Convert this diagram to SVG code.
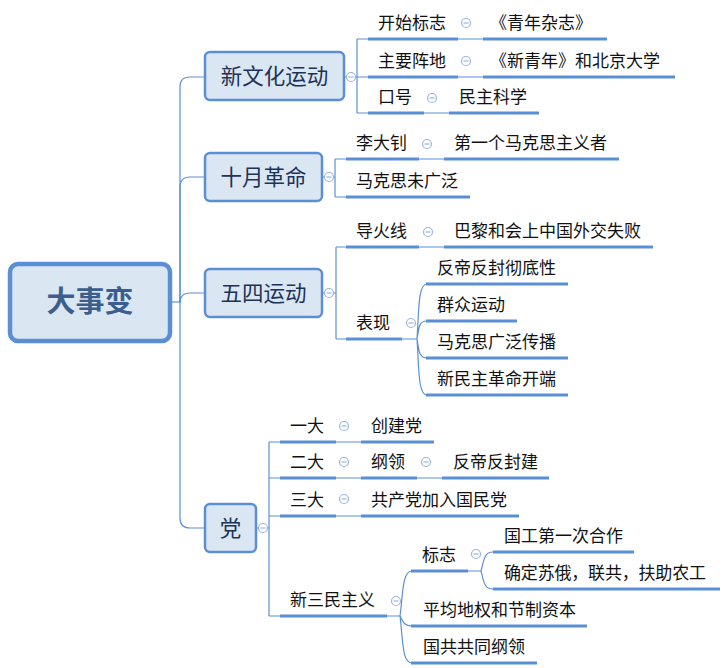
<svg xmlns="http://www.w3.org/2000/svg" width="724" height="668" viewBox="0 0 724 668">
<style>
.ln{fill:none;stroke:#5b8fd5;stroke-width:1.2}
.ul{fill:none;stroke:#5b8fd5;stroke-width:3}
.box{fill:#dbe6f3;stroke:#5b8fd5;stroke-width:2.5}
.root{fill:#dbe6f3;stroke:#5b8fd5;stroke-width:4.5}
.bt{font-family:"Noto Sans CJK SC","Microsoft YaHei",sans-serif;font-size:21.5px;fill:#1b3358;text-anchor:middle}
.rt{font-family:"Noto Sans CJK SC","Microsoft YaHei",sans-serif;font-size:29px;font-weight:bold;fill:#3b5e8e;text-anchor:middle}
.t{font-family:"Noto Sans CJK SC","Microsoft YaHei",sans-serif;font-size:17px;fill:#111}
.c{fill:#fff;stroke:#9ab6e0;stroke-width:1.2}
</style>
<defs>
<g id="col"><circle class="c" r="4.5"/><line x1="-2.5" y1="0" x2="2.5" y2="0" stroke="#9ab6e0" stroke-width="1.2"/></g>
</defs>
<g id="connectors">
<path class="ln" d="M171 302H180"/>
<path class="ln" d="M180 302V87Q180 77 190 77H205"/>
<path class="ln" d="M180 302V187Q180 177 190 177H205"/>
<path class="ln" d="M180 302V303Q180 293 190 293H205"/>
<path class="ln" d="M180 302V518Q180 528 190 528H205"/>
<!-- 新文化运动 -->
<path class="ln" d="M344 77H357M357 39V113M357 39H368M357 77H368M357 113H368"/>
<path class="ln" d="M458 39H483M458 77H483M424 113H449"/>
<!-- 十月革命 -->
<path class="ln" d="M322 177H335M335 159V197M335 159H346M335 197H346M419 159H444"/>
<!-- 五四运动 -->
<path class="ln" d="M322 293H336M336 247V339M336 247H346M336 339H346M419 247H444M402 339H417"/>
<path class="ln" d="M417 339C419 310 418 284 427 284M417 339C419 327 419 321 427 321M417 339C419 351 419 358 427 358M417 339C419 368 418 395 427 395"/>
<!-- 党 -->
<path class="ln" d="M256 528H269M269 442V616M269 442H280M269 478H280M269 516H280M269 616H280"/>
<path class="ln" d="M336 442H361M336 478H361M417 478H442M336 516H361M387 616H400"/>
<path class="ln" d="M400 616C403 595 402 571 412 571M400 616C403 622 404 626 412 626M400 616C403 640 402 663 412 663"/>
<path class="ln" d="M468 571H481M481 571C484 560 484 552 493 552M481 571C484 582 484 589 493 589"/>
</g>
<g id="root"><rect class="root" x="10" y="264" width="160" height="77" rx="8"/><text class="rt" x="90" y="312">大事变</text></g>
<g id="n1"><rect class="box" x="205" y="52" width="139" height="48" rx="5"/><text class="bt" x="274.5" y="84">新文化运动</text><use href="#col" x="351" y="77"/></g>
<g id="n2"><rect class="box" x="205" y="153" width="117" height="48" rx="5"/><text class="bt" x="263.5" y="185">十月革命</text><use href="#col" x="329" y="177"/></g>
<g id="n3"><rect class="box" x="205" y="269" width="117" height="48" rx="5"/><text class="bt" x="263.5" y="301">五四运动</text><use href="#col" x="329" y="293"/></g>
<g id="n4"><rect class="box" x="205" y="504" width="51" height="48" rx="5"/><text class="bt" x="230.5" y="536">党</text><use href="#col" x="263" y="528"/></g>
<g id="n1a"><path class="ul" d="M368 39H458"/><text class="t" x="378" y="29">开始标志</text><use href="#col" x="466" y="23"/></g>
<g id="n1a1"><path class="ul" d="M483 39H607"/><text class="t" x="490" y="29">《青年杂志》</text></g>
<g id="n1b"><path class="ul" d="M368 77H458"/><text class="t" x="378" y="67">主要阵地</text><use href="#col" x="466" y="61"/></g>
<g id="n1b1"><path class="ul" d="M483 77H675"/><text class="t" x="490" y="67">《新青年》和北京大学</text></g>
<g id="n1c"><path class="ul" d="M368 113H424"/><text class="t" x="378" y="103">口号</text><use href="#col" x="432" y="98"/></g>
<g id="n1c1"><path class="ul" d="M449 113H539"/><text class="t" x="459" y="103">民主科学</text></g>
<g id="n2a"><path class="ul" d="M346 159H419"/><text class="t" x="356" y="149">李大钊</text><use href="#col" x="427" y="144"/></g>
<g id="n2a1"><path class="ul" d="M444 159H619"/><text class="t" x="454" y="149">第一个马克思主义者</text></g>
<g id="n2b"><path class="ul" d="M346 197H470"/><text class="t" x="356" y="187">马克思未广泛</text></g>
<g id="n3a"><path class="ul" d="M346 247H419"/><text class="t" x="356" y="237">导火线</text><use href="#col" x="428" y="232"/></g>
<g id="n3a1"><path class="ul" d="M444 247H653"/><text class="t" x="454" y="237">巴黎和会上中国外交失败</text></g>
<g id="n3b"><path class="ul" d="M346 339H402"/><text class="t" x="356" y="329">表现</text><use href="#col" x="411" y="323"/></g>
<g id="n3b1"><path class="ul" d="M426 284H568"/><text class="t" x="437" y="274">反帝反封彻底性</text></g>
<g id="n3b2"><path class="ul" d="M426 321H517"/><text class="t" x="437" y="311">群众运动</text></g>
<g id="n3b3"><path class="ul" d="M426 358H568"/><text class="t" x="437" y="348">马克思广泛传播</text></g>
<g id="n3b4"><path class="ul" d="M426 395H568"/><text class="t" x="437" y="385">新民主革命开端</text></g>
<g id="n4a"><path class="ul" d="M280 442H336"/><text class="t" x="290" y="432">一大</text><use href="#col" x="344" y="426"/></g>
<g id="n4a1"><path class="ul" d="M361 442H434"/><text class="t" x="371" y="432">创建党</text></g>
<g id="n4b"><path class="ul" d="M280 478H336"/><text class="t" x="290" y="468">二大</text><use href="#col" x="344" y="462"/></g>
<g id="n4b1"><path class="ul" d="M361 478H417"/><text class="t" x="371" y="468">纲领</text><use href="#col" x="426" y="462"/></g>
<g id="n4b2"><path class="ul" d="M442 478H549"/><text class="t" x="453" y="468">反帝反封建</text></g>
<g id="n4c"><path class="ul" d="M280 516H336"/><text class="t" x="290" y="506">三大</text><use href="#col" x="344" y="499"/></g>
<g id="n4c1"><path class="ul" d="M361 516H519"/><text class="t" x="371" y="506">共产党加入国民党</text></g>
<g id="n4d"><path class="ul" d="M280 616H387"/><text class="t" x="290" y="606">新三民主义</text><use href="#col" x="396" y="601"/></g>
<g id="n4d1"><path class="ul" d="M411 571H468"/><text class="t" x="422" y="561">标志</text><use href="#col" x="476" y="554"/></g>
<g id="n4d1a"><path class="ul" d="M493 552H634"/><text class="t" x="504" y="542">国工第一次合作</text></g>
<g id="n4d1b"><path class="ul" d="M493 589H720"/><text class="t" x="504" y="579" textLength="202" lengthAdjust="spacing">确定苏俄，联共，扶助农工</text></g>
<g id="n4d2"><path class="ul" d="M411 626H587"/><text class="t" x="423" y="616">平均地权和节制资本</text></g>
<g id="n4d3"><path class="ul" d="M411 663H537"/><text class="t" x="423" y="653">国共共同纲领</text></g>
</svg>
